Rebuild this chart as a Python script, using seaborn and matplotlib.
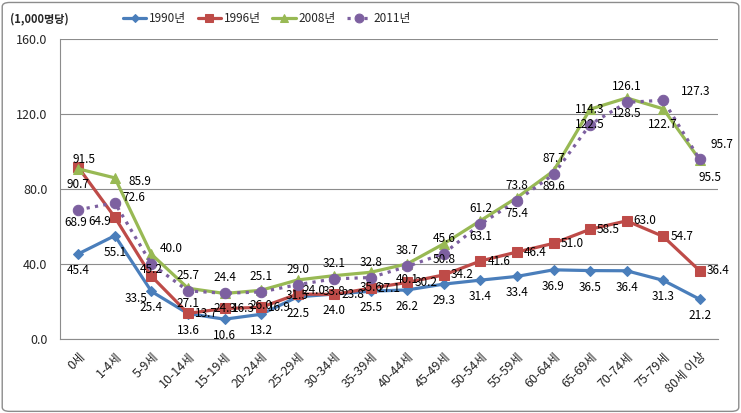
import numpy as np
import matplotlib
matplotlib.use("Agg")
import matplotlib.pyplot as plt
from matplotlib.patches import FancyBboxPatch
import seaborn as sns

# ================ DATA =======================================

ages = ["0세", "1-4세", "5-9세", "10-14세", "15-19세", "20-24세", "25-29세",
        "30-34세", "35-39세", "40-44세", "45-49세", "50-54세", "55-59세",
        "60-64세", "65-69세", "70-74세", "75-79세", "80세 이상"]

y1990 = [45.4, 55.1, 25.4, 13.6, 10.6, 13.2, 22.5, 24.0, 25.5, 26.2,
         29.3, 31.4, 33.4, 36.9, 36.5, 36.4, 31.3, 21.2]
y1996 = [91.5, 64.9, 33.5, 13.7, 16.3, 16.9, 24.0, 23.8, 27.1, 30.2,
         34.2, 41.6, 46.4, 51.0, 58.5, 63.0, 54.7, 36.4]
y2008 = [90.7, 85.9, 45.2, 27.1, 24.3, 26.0, 31.5, 33.8, 35.6, 40.1,
         50.8, 63.1, 75.4, 89.6, 122.5, 128.5, 122.7, 95.5]
y2011 = [68.9, 72.6, 40.0, 25.7, 24.4, 25.1, 29.0, 32.1, 32.8, 38.7,
         45.6, 61.2, 73.8, 87.7, 114.3, 126.1, 127.3, 95.7]

series_names = ["1990년", "1996년", "2008년", "2011년"]
yticks = [0, 40, 80, 120, 160]

# ================ STYLE =======================================

sns.set_style("white")
plt.rcParams['font.family'] = ['Noto Sans CJK KR', 'DejaVu Sans']

styles = {
    "1990년": dict(color="#4A7EBB", marker="D", markersize=5, linestyle="-"),
    "1996년": dict(color="#BE4B48", marker="s", markersize=6.5, linestyle="-"),
    "2008년": dict(color="#98B954", marker="^", markersize=7, linestyle="-"),
    "2011년": dict(color="#7D60A0", marker="o", markersize=7.5, linestyle=":"),
}
# default label placement per series, offset in pixels (dx, dy, ha, va)
label_pos = {
    "1990년": (0, -10, "center", "top"),
    "1996년": (7, 0, "left", "center"),
    "2008년": (0, -9, "center", "top"),
    "2011년": (0, 9, "center", "bottom"),
}
# a few labels that sit elsewhere in the original
label_fix = {
    ("1996년", 0): (6, 8, "center", "center"),
    ("2008년", 0): (0, -16, "center", "center"),
    ("2011년", 0): (-3, -13, "center", "center"),
    ("2008년", 1): (14, -4, "left", "center"),
    ("2011년", 1): (8, 5, "left", "center"),
    ("1996년", 1): (-4, -4, "right", "center"),
    ("2011년", 2): (8, 16, "left", "center"),
    ("1996년", 2): (-4, -22, "right", "center"),
    ("1996년", 6): (5, 4, "left", "center"),
    ("2011년", 16): (18, 9, "left", "center"),
    ("2011년", 17): (11, 15, "left", "center"),
    ("2008년", 17): (10, -18, "center", "center"),
}

fig = plt.figure(figsize=(7.41, 4.13), dpi=100)
ax = fig.add_axes([0.081, 0.179, 0.888, 0.727])

data = {"1990년": y1990, "1996년": y1996, "2008년": y2008, "2011년": y2011}
x = np.arange(len(ages))

for name in series_names:
    st = styles[name]
    sns.lineplot(x=x, y=data[name], ax=ax, sort=False, label=name,
                 color=st["color"], marker=st["marker"], markersize=st["markersize"],
                 markeredgecolor=st["color"], linestyle=st["linestyle"], linewidth=2.3)
    for i, (xi, v) in enumerate(zip(x, data[name])):
        dx, dy, ha, va = label_fix.get((name, i), label_pos[name])
        ax.annotate(f"{v:.1f}", (xi, v), xytext=(dx, dy), textcoords="offset pixels",
                    ha=ha, va=va, fontsize=8.5, color="black")

# ================ AXES =======================================

ax.set_xlim(-0.5, len(ages) - 0.5)
ax.set_ylim(0, 160)
ax.set_yticks(yticks)
ax.set_yticklabels([f"{t:.1f}" for t in yticks], fontsize=9)
ax.yaxis.grid(True, color="#8C8C8C", linewidth=0.8)
ax.set_axisbelow(True)

ax.set_xticks(x)
ax.set_xticklabels(ages, rotation=45, ha="right", rotation_mode="anchor", fontsize=9)
ax.set_xticks(np.arange(-0.5, len(ages)), minor=True)
ax.tick_params(axis="x", which="major", length=0, pad=8)
ax.tick_params(axis="x", which="minor", length=5, color="#8C8C8C", direction="out")
ax.tick_params(axis="y", length=5, color="#8C8C8C", direction="out", pad=4)
ax.set_xlabel("")
ax.set_ylabel("")

for side in ["top", "right"]:
    ax.spines[side].set_visible(False)
for side in ["left", "bottom"]:
    ax.spines[side].set_color("#8C8C8C")
    ax.spines[side].set_linewidth(0.8)

ax.legend(loc="center", bbox_to_anchor=(0.36, 0.955), bbox_transform=fig.transFigure,
          ncol=4, frameon=False, fontsize=8.5, handlelength=2.0, columnspacing=1.0,
          handletextpad=0.2, markerscale=0.85)

fig.text(0.014, 0.955, "(1,000명당)", fontsize=8, fontweight="bold", va="center")

# chart border
fig.patches.append(FancyBboxPatch((0.003, 0.004), 0.994, 0.99,
                                  boxstyle="round,pad=0,rounding_size=0.01",
                                  transform=fig.transFigure, fill=False,
                                  edgecolor="#8C8C8C", linewidth=1))

fig.savefig("out.png", dpi=100)
